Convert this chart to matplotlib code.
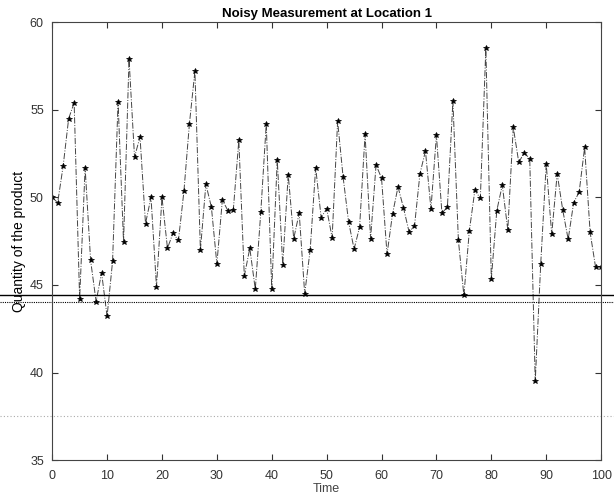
import matplotlib
matplotlib.use("Agg")
import matplotlib.pyplot as plt

# valors llegits de la figura (t = 0..100)
time = list(range(0, 101))
quantity = [
    50.0, 49.7, 51.8, 54.5, 55.4, 44.2, 51.7, 46.4, 44.05, 45.7,
    43.2, 46.35, 55.45, 47.45, 57.9, 52.3, 53.45, 48.5, 50.0, 44.9,
    50.0, 47.1, 47.95, 47.55, 50.35, 54.2, 57.2, 47.0, 50.75, 49.45,
    46.2, 49.85, 49.25, 49.3, 53.25, 45.5, 47.1, 44.75, 49.15, 54.2,
    44.75, 52.15, 46.15, 51.3, 47.65, 49.1, 44.5, 47.0, 51.7, 48.85,
    49.35, 47.7, 54.35, 51.15, 48.6, 47.05, 48.3, 53.6, 47.65, 51.85,
    51.1, 46.75, 49.05, 50.6, 49.4, 48.05, 48.35, 51.35, 52.65, 49.35,
    53.55, 49.1, 49.45, 55.5, 47.55, 44.4, 48.1, 50.4, 49.95, 58.5,
    45.35, 49.25, 50.7, 48.15, 54.0, 52.0, 52.55, 52.2, 39.5, 46.2,
    51.9, 47.9, 51.35, 49.3, 47.6, 49.7, 50.3, 52.85, 48.0, 46.0,
    46.0,
]

# línies horitzontals del full escanejat
solid_level = 44.4
dotted_level = 44.05
faint_level = 37.5

xticks = list(range(0, 101, 10))
yticks = list(range(35, 61, 5))

plt.rcParams['font.family'] = ['Liberation Sans', 'DejaVu Sans']

fig = plt.figure(figsize=(6.14, 5.04), dpi=100)
ax = fig.add_axes([0.085, 0.087, 0.894, 0.869])

ax.plot(time, quantity, linestyle='-.', color='#444444', linewidth=0.7,
        marker='*', markersize=4, markerfacecolor='black',
        markeredgecolor='black', markeredgewidth=0.5)

# les línies travessen tota la pàgina
x0 = -52 / 549
x1 = (614 - 52) / 549
ax.axhline(solid_level, xmin=x0, xmax=x1, color='black', linewidth=1.0,
           clip_on=False)
ax.axhline(dotted_level, xmin=x0, xmax=x1, color='black', linewidth=0.8,
           linestyle=(0, (1, 1)), clip_on=False)
ax.axhline(faint_level, xmin=x0, xmax=x1, color='#aaaaaa', linewidth=0.8,
           linestyle=(0, (1, 2)), clip_on=False)

ax.set_xlim(0, 100)
ax.set_ylim(35, 60)
ax.set_xticks(xticks)
ax.set_yticks(yticks)
ax.tick_params(direction='in', length=4, width=0.8, labelsize=9,
               top=True, right=True, colors='#333333')
ax.tick_params(axis='x', pad=7)
ax.tick_params(axis='y', pad=6)
for s in ax.spines.values():
    s.set_linewidth(0.8)
    s.set_color('#444444')

ax.set_title('Noisy Measurement at Location 1', fontsize=9.5,
             fontweight='bold', pad=4)
ax.set_xlabel('Time', fontsize=9, color='#444444', labelpad=1)
ax.set_ylabel('Quantity of the product', fontsize=10, labelpad=3)

fig.savefig('out.png', dpi=100)
